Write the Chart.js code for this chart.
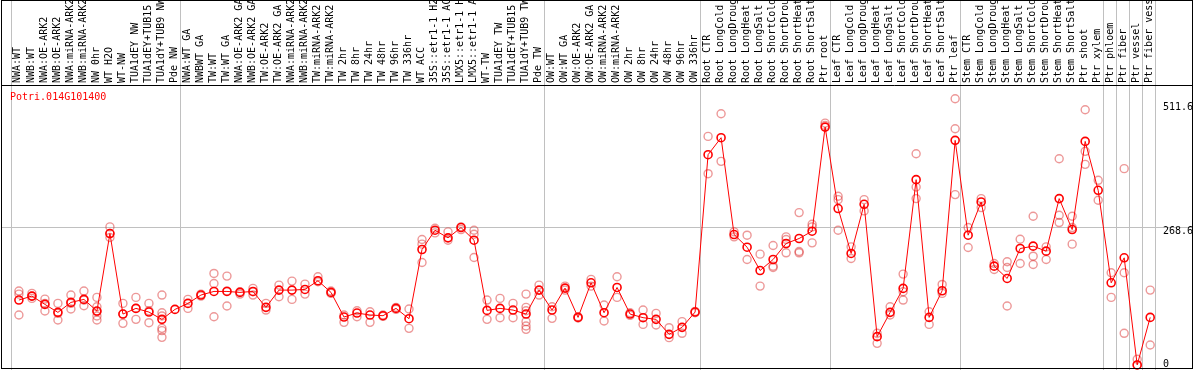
<!DOCTYPE html>
<html>
<head>
<meta charset="utf-8">
<script src="https://cdn.jsdelivr.net/npm/chart.js@4.4.1/dist/chart.umd.min.js"></script>
<style>
  html, body { margin: 0; padding: 0; background: #fff; }
  canvas { display: block; }
</style>
</head>
<body>
<canvas id="expr" width="1194" height="370"></canvas>
<script>
const geneName = 'Potri.014G101400';

const samples = [
    'NWA:WT', 'NWB:WT', 'NWA:OE-ARK2', 'NWB:OE-ARK2', 'NWA:miRNA-ARK2', 'NWB:miRNA-ARK2',
    'NW 0hr', 'WT H2O', 'WT-NW', 'TUA1dEY NW', 'TUA1dEY+TUB15', 'TUA1dY+TUB9 NW', 'Pde NW',
    'NWA:WT GA', 'NWBWT GA', 'TW:WT', 'TW:WT GA', 'NWA:OE-ARK2 GA', 'NWB:OE-ARK2 GA',
    'TW:OE-ARK2', 'TW:OE-ARK2 GA', 'NWA:miRNA-ARK2', 'NWB:miRNA-ARK2', 'TW:miRNA-ARK2',
    'TW:miRNA-ARK2', 'TW 2hr', 'TW 8hr', 'TW 24hr', 'TW 48hr', 'TW 96hr', 'TW 336hr',
    'WT ACC', '35S::etr1-1 H2', '35S::etr1-1 AC', 'LMX5::etr1-1 H', 'LMX5::etr1-1 A',
    'WT-TW', 'TUA1dEY TW', 'TUA1dEY+TUB15', 'TUA1dY+TUB9 TW', 'Pde TW',
    'OW:WT', 'OW:WT GA', 'OW:OE-ARK2', 'OW:OE-ARK2 GA', 'OW:miRNA-ARK2', 'OW:miRNA-ARK2',
    'OW 2hr', 'OW 8hr', 'OW 24hr', 'OW 48hr', 'OW 96hr', 'OW 336hr',
    'Root CTR', 'Root LongCold', 'Root LongDroug', 'Root LongHeat', 'Root LongSalt',
    'Root ShortCold', 'Root ShortDrou', 'Root ShortHeat', 'Root ShortSalt', 'Ptr root',
    'Leaf CTR', 'Leaf LongCold', 'Leaf LongDroug', 'Leaf LongHeat', 'Leaf LongSalt',
    'Leaf ShortCold', 'Leaf ShortDrou', 'Leaf ShortHeat', 'Leaf ShortSalt', 'Ptr leaf',
    'Stem CTR', 'Stem LongCold', 'Stem LongDroug', 'Stem LongHeat', 'Stem LongSalt',
    'Stem ShortCold', 'Stem ShortDrou', 'Stem ShortHeat', 'Stem ShortSalt', 'Ptr shoot',
    'Ptr xylem', 'Ptr phloem', 'Ptr fiber', 'Ptr vessel', 'Ptr fiber vess'];

const means = [
    127.0, 134.8, 118.5, 102.9, 122.4, 128.3, 105.5, 257.2, 99.6, 110.7, 103.5, 89.2, 108.7,
    120.5, 136.8, 143.9, 143.9, 142.0, 143.9, 112.7, 146.5, 146.5, 147.8, 164.8, 142.0,
    93.8, 101.6, 97.7, 96.4, 110.7, 90.5, 226.0, 263.7, 248.8, 268.9, 244.2,
    106.8, 110.7, 107.4, 99.6, 146.5,
    107.4, 150.4, 93.1, 160.8, 102.2, 151.7, 99.6, 92.5, 89.2, 59.9, 73.6, 103.5,
    411.6, 444.8, 255.3, 230.5, 184.9, 206.4, 237.7, 247.5, 261.8, 465.6,
    306.1, 218.2, 314.5, 55.4, 102.9, 149.8, 362.7, 93.1, 145.2, 439.6,
    254.0, 319.1, 193.4, 169.3, 227.9, 232.5, 222.7, 325.6, 265.0, 437.6,
    341.9, 160.8, 209.7, 0, 93.1];

const replicates = [
    [144.6, 138.7, 97.7], [140.0, 134.8, 130.2], [128.9, 120.5, 105.5], [120.5, 100.9, 87.9],
    [136.8, 120.5, 109.4], [144.6, 127.0, 115.9], [132.2, 114.0, 104.2, 95.7, 87.9],
    [270.2, 257.2, 249.4], [120.5, 99.6, 81.4], [132.2, 110.7, 89.2], [120.5, 106.1, 82.7],
    [136.8, 102.2, 95.7, 71.6, 67.1, 54.0], [],
    [128.3, 110.7], [138.7, 134.8], [179.1, 159.5, 94.4], [173.9, 144.6, 115.3],
    [143.3, 138.7], [149.8, 143.3, 136.8], [120.5, 107.4], [156.3, 133.5], [164.1, 128.3],
    [158.2, 138.7], [172.6, 162.8], [144.6, 140.0], [97.7, 83.4], [106.1, 94.4],
    [104.2, 83.4], [97.7, 95.1], [112.7, 108.7], [109.4, 71.6], [245.5, 236.4, 200.6],
    [267.6, 258.5], [260.5, 244.2], [270.2, 265.0], [263.7, 255.9, 210.3],
    [127.0, 89.2], [130.2, 92.5], [120.5, 92.5], [138.7, 112.7, 106.1, 84.7, 76.2, 69.7],
    [156.3, 136.8],
    [114.0, 91.2], [154.3, 146.5], [94.4, 91.8], [167.4, 154.3], [117.2, 86.0],
    [172.6, 132.2], [102.2, 97.0], [107.4, 79.4], [100.9, 78.1], [72.9, 53.4],
    [84.7, 61.9], [104.8, 102.2],
    [447.4, 374.4], [491.7, 398.5], [260.5, 250.7], [254.0, 206.4], [216.9, 154.3],
    [233.8, 193.4, 190.8], [250.7, 245.5, 219.5], [298.2, 222.1, 219.5],
    [275.5, 270.2, 239.0], [473.4, 468.9],
    [330.2, 323.6, 263.7], [231.2, 208.4], [323.6, 301.5], [61.9, 42.3], [114.0, 97.7],
    [177.8, 143.3, 127.0], [413.5, 348.4, 325.6], [104.2, 79.4], [157.6, 140.0],
    [521.0, 462.4, 333.4],
    [268.9, 229.9], [325.6, 308.0], [198.6, 186.9], [201.9, 190.8, 115.3], [246.1, 198.6],
    [291.1, 212.9, 196.7], [231.2, 206.4], [403.7, 293.0, 278.7], [291.1, 268.9, 236.4],
    [499.5, 418.1, 392.7],
    [361.4, 322.3], [180.4, 132.2], [384.2, 180.4, 61.9], [11.1, 0], [146.5, 39.1]];

const yTicks = [0, 268.6, 511.6];

// first sample index of each group (separator lines go just before them)
const groupStarts = [0, 13, 41, 53, 63, 73, 84, 85, 86, 87, 88];

const FONT = {family: 'DejaVu Sans Mono', size: 10};

const framePlugin = {
    id: 'frame',
    beforeDatasetsDraw(chart) {
        const {ctx, height} = chart;
        const x = chart.scales.x;
        ctx.save();
        ctx.strokeStyle = '#c0c0c0';
        ctx.lineWidth = 1;
        for (const s of groupStarts) {
            const px = Math.round(x.getPixelForValue(s - 0.6)) + 0.5;
            ctx.beginPath();
            ctx.moveTo(px, 0);
            ctx.lineTo(px, height);
            ctx.stroke();
        }
        ctx.restore();
    },
    afterDraw(chart) {
        const {ctx, width, chartArea} = chart;
        const x = chart.scales.x;
        ctx.save();
        ctx.strokeStyle = '#000';
        ctx.lineWidth = 1;
        ctx.strokeRect(1.5, 0.5, width - 3, 368);
        const ay = Math.round(x.bottom) + 0.5;
        ctx.beginPath();
        ctx.moveTo(1.5, ay);
        ctx.lineTo(width - 1.5, ay);
        ctx.stroke();
        // gene name in the corner of the plot
        ctx.fillStyle = '#ff0000';
        ctx.font = '10px "DejaVu Sans Mono"';
        ctx.textBaseline = 'middle';
        ctx.fillText(geneName, chartArea.left + 8, chartArea.top + 12);
        ctx.restore();
    }
};

new Chart(document.getElementById('expr'), {
    type: 'scatter',
    data: {
        datasets: [{
            label: 'mean',
            data: means.map((v, i) => ({x: i, y: v})),
            showLine: true,
            borderColor: '#ff0000',
            borderWidth: 1,
            pointRadius: 4,
            pointBorderWidth: 1.6,
            pointBorderColor: '#ff0000',
            pointBackgroundColor: 'rgba(0,0,0,0)',
            clip: false,
            order: 0
        }, {
            label: 'replicates',
            data: replicates.flatMap((reps, i) => reps.map(v => ({x: i, y: v}))),
            showLine: false,
            pointRadius: 4,
            pointBorderWidth: 1.4,
            pointBorderColor: 'rgba(220,50,50,0.5)',
            pointBackgroundColor: 'rgba(0,0,0,0)',
            clip: false,
            order: 1
        }]
    },
    options: {
        responsive: false,
        animation: false,
        devicePixelRatio: 1,
        layout: {autoPadding: false, padding: {left: 2, right: 1, top: 0, bottom: 2}},
        plugins: {legend: {display: false}, tooltip: {enabled: false}},
        scales: {
            x: {
                type: 'linear',
                position: 'top',
                min: -1.3,
                max: 87.6,
                afterBuildTicks: s => { s.ticks = samples.map((_, i) => ({value: i})); },
                afterFit: s => {
                    s.height = 85;
                    s.paddingLeft = 0;
                    s.paddingRight = 0;
                },
                grid: {display: false, drawTicks: false},
                border: {display: false},
                ticks: {
                    autoSkip: false,
                    minRotation: 90,
                    maxRotation: 90,
                    padding: 2,
                    labelOffset: 11,
                    color: '#000',
                    font: FONT,
                    callback: v => samples[v]
                }
            },
            y: {
                type: 'linear',
                position: 'right',
                min: -6,
                max: 548,
                afterBuildTicks: s => { s.ticks = yTicks.map(v => ({value: v})); },
                afterFit: s => {
                    s.width = 35;
                    s.paddingTop = 0;
                    s.paddingBottom = 0;
                },
                grid: {
                    color: c => (c.tick && c.tick.value === 268.6) ? '#c0c0c0' : 'rgba(0,0,0,0)',
                    drawTicks: true,
                    tickLength: 35
                },
                border: {display: false},
                ticks: {
                    padding: -30,
                    labelOffset: 4,
                    color: '#000',
                    font: c => (c.tick && c.tick.value === 0)
                        ? {family: FONT.family, size: 10, lineHeight: 1.0}
                        : FONT,
                    callback: v => v === 0 ? ['0', ''] : String(v)
                }
            }
        }
    },
    plugins: [framePlugin]
});
</script>
</body>
</html>
